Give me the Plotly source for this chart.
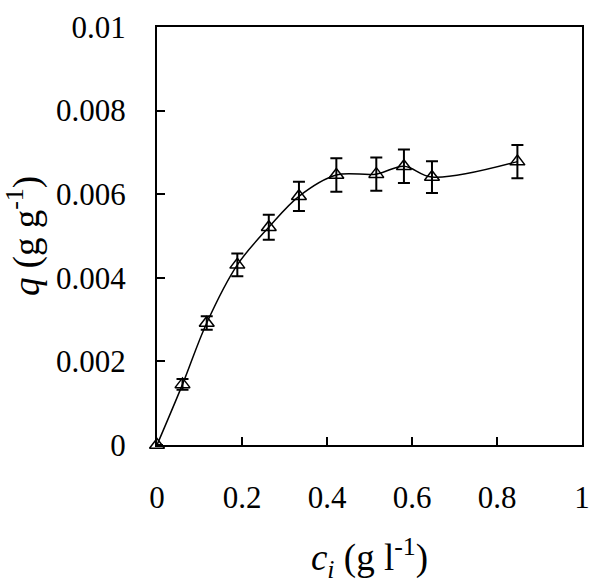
import plotly.graph_objects as go

# sorption data
ci = [0.0, 0.060, 0.117, 0.189, 0.263, 0.334, 0.422, 0.516, 0.581, 0.647, 0.848]
q = [0.0, 0.00145, 0.00292, 0.00431, 0.00521, 0.00595, 0.00646, 0.00648, 0.00667, 0.00641, 0.00678]
q_err = [0.0, 0.00013, 0.00016, 0.00027, 0.00030, 0.00035, 0.00040, 0.00040, 0.00040, 0.00038, 0.00040]

x_ticks = [0, 0.2, 0.4, 0.6, 0.8, 1]
x_labels = ['0', '0.2', '0.4', '0.6', '0.8', '1']
y_ticks = [0, 0.002, 0.004, 0.006, 0.008, 0.01]
y_labels = ['0', '0.002', '0.004', '0.006', '0.008', '0.01']

FONT = 'Liberation Serif'

fig = go.Figure()

# smooth curve through the points
fig.add_trace(go.Scatter(
    x=ci, y=q, mode='lines',
    line=dict(color='black', width=1.5, shape='spline', smoothing=1.0),
    hoverinfo='skip', showlegend=False,
))

# measured points with error bars
fig.add_trace(go.Scatter(
    x=ci, y=q, mode='markers',
    marker=dict(symbol='triangle-up-open', size=13, color='black', line=dict(width=1.5)),
    error_y=dict(type='data', array=q_err, visible=True, color='black', thickness=2, width=6),
    cliponaxis=False, showlegend=False,
))

axis_common = dict(
    ticks='inside', ticklen=8, tickwidth=1.5, tickcolor='black',
    showline=True, linecolor='black', linewidth=2, mirror=True,
    showgrid=False, zeroline=False, ticklabeloverflow='allow',
)

fig.update_layout(
    width=600, height=586,
    paper_bgcolor='white', plot_bgcolor='white',
    font=dict(family=FONT, color='black', size=31),
    margin=dict(l=156, r=10, t=13, b=141),
    xaxis=dict(
        range=[0, 1], tickvals=x_ticks, ticktext=x_labels,
        ticklabelstandoff=24, **axis_common,
        title=dict(text='<i>c</i><sub><i>i</i></sub> (g l<sup>-1</sup>)', standoff=30),
    ),
    yaxis=dict(
        range=[0, 0.01], tickvals=y_ticks, ticktext=y_labels,
        ticklabelstandoff=23, **axis_common,
        title=dict(text='<i>q</i> (g g<sup>-1</sup>)', standoff=20),
    ),
)

# drop the default page margin so the plot sits at the window's corner
fig.write_html("out.html", config={'displayModeBar': False},
               post_script="document.body.style.margin='0';")
